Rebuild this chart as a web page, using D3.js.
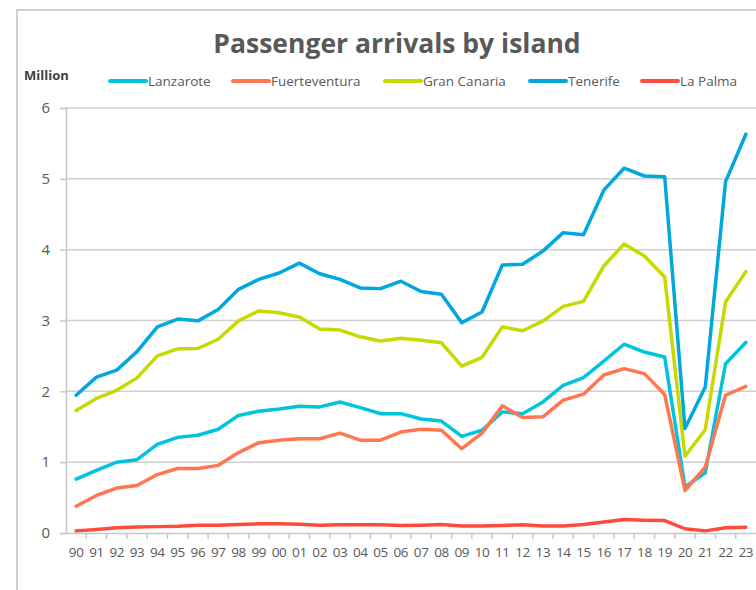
<!DOCTYPE html>
<html>
<head>
<meta charset="utf-8">
<script src="https://cdn.jsdelivr.net/npm/d3@7"></script>
<style>
  body { margin: 0; background: #fff; }
  svg { display: block; font-family: "Open Sans", sans-serif; }
</style>
</head>
<body>
<div id="chart"></div>
<script>
const years = ["90","91","92","93","94","95","96","97","98","99","00","01","02","03","04","05","06","07","08","09","10","11","12","13","14","15","16","17","18","19","20","21","22","23"];
const yTicks = [0, 1, 2, 3, 4, 5, 6];

const lanzarote = [0.76,0.885,1.00,1.035,1.25,1.35,1.38,1.465,1.66,1.72,1.75,1.79,1.78,1.85,1.77,1.685,1.685,1.61,1.58,1.365,1.45,1.71,1.685,1.85,2.085,2.195,2.425,2.665,2.555,2.485,0.65,0.85,2.39,2.69];
const fuerteventura = [0.377,0.53,0.635,0.67,0.825,0.91,0.91,0.955,1.135,1.275,1.31,1.33,1.33,1.41,1.31,1.31,1.425,1.465,1.45,1.19,1.41,1.795,1.63,1.64,1.875,1.96,2.23,2.32,2.25,1.955,0.60,0.93,1.945,2.07];
const granCanaria = [1.73,1.90,2.015,2.19,2.50,2.60,2.605,2.735,2.995,3.135,3.11,3.05,2.88,2.865,2.77,2.71,2.75,2.72,2.685,2.355,2.48,2.91,2.855,2.99,3.20,3.27,3.77,4.08,3.91,3.615,1.083,1.46,3.26,3.69];
const tenerife = [1.945,2.20,2.30,2.56,2.91,3.02,2.995,3.155,3.44,3.58,3.67,3.81,3.66,3.58,3.46,3.45,3.555,3.41,3.37,2.97,3.12,3.785,3.795,3.98,4.24,4.21,4.84,5.15,5.04,5.03,1.475,2.06,4.96,5.63];
const laPalma = [0.03,0.05,0.075,0.085,0.09,0.095,0.11,0.11,0.12,0.13,0.13,0.125,0.11,0.115,0.115,0.115,0.105,0.11,0.12,0.10,0.10,0.105,0.115,0.10,0.10,0.12,0.155,0.19,0.18,0.175,0.06,0.03,0.075,0.08];

const series = [
  { name: "Lanzarote", values: lanzarote, color: "#00C3DE" },
  { name: "Fuerteventura", values: fuerteventura, color: "#FF7650" },
  { name: "Gran Canaria", values: granCanaria, color: "#C6D900" },
  { name: "Tenerife", values: tenerife, color: "#00A8DE" },
  { name: "La Palma", values: laPalma, color: "#FF4B3B" }
];

const W = 756, H = 590;
const margin = { top: 108, right: 0, bottom: 57, left: 66 };
const width = W - margin.left - margin.right;
const height = H - margin.top - margin.bottom;

const svg = d3.select("#chart")
  .append("svg")
  .attr("width", W)
  .attr("height", H);

// outer chart border (runs off the right and bottom)
svg.append("path")
  .attr("d", `M17,${H + 5}V10H${W + 5}`)
  .attr("fill", "none")
  .attr("stroke", "#d0d0d0")
  .attr("stroke-width", 2);

svg.append("text")
  .attr("x", 397)
  .attr("y", 53)
  .attr("text-anchor", "middle")
  .attr("font-size", 26.5)
  .attr("font-weight", "bold")
  .attr("fill", "#595959")
  .text("Passenger arrivals by island");

svg.append("text")
  .attr("x", 24)
  .attr("y", 80)
  .attr("font-size", 13)
  .attr("font-weight", "bold")
  .attr("fill", "#404040")
  .text("Million");

const legendX = [110, 233, 385, 530, 642];
const legend = svg.append("g");
series.forEach((s, i) => {
  legend.append("line")
    .attr("x1", legendX[i]).attr("x2", legendX[i] + 36)
    .attr("y1", 81).attr("y2", 81)
    .attr("stroke", s.color)
    .attr("stroke-width", 4)
    .attr("stroke-linecap", "round");
  legend.append("text")
    .attr("x", legendX[i] + 38)
    .attr("y", 86)
    .attr("font-size", 13.5)
    .attr("fill", "#595959")
    .text(s.name);
});

const g = svg.append("g")
  .attr("transform", `translate(${margin.left},${margin.top})`);

const x = d3.scaleBand()
  .domain(years)
  .range([0, width]);

const y = d3.scaleLinear()
  .domain([0, 6])
  .range([height, 0]);

// gridlines
g.append("g")
  .selectAll("line")
  .data(yTicks.filter(d => d > 0))
  .join("line")
  .attr("x1", 0).attr("x2", width)
  .attr("y1", d => y(d)).attr("y2", d => y(d))
  .attr("stroke", "#d0d0d0")
  .attr("stroke-width", 1.5);

const yAxis = g.append("g")
  .call(d3.axisLeft(y).tickValues(yTicks).tickSize(6).tickPadding(10).tickFormat(d3.format("d")));
yAxis.select(".domain").attr("stroke", "#c8c8c8").attr("stroke-width", 1.5);
yAxis.selectAll(".tick line").attr("stroke", "#c8c8c8").attr("stroke-width", 1.5);
yAxis.selectAll("text").attr("font-size", 15).attr("fill", "#595959").attr("font-family", "Open Sans");

const xAxis = g.append("g")
  .attr("transform", `translate(0,${height})`)
  .call(d3.axisBottom(x).tickSize(0).tickPadding(14));
xAxis.select(".domain").attr("stroke", "#c8c8c8").attr("stroke-width", 1.5);
xAxis.selectAll("text").attr("font-size", 13.5).attr("fill", "#595959").attr("font-family", "Open Sans").attr("letter-spacing", "-0.4px");

// tick marks between categories
g.append("g")
  .selectAll("line")
  .data(years.slice(1))
  .join("line")
  .attr("x1", d => x(d)).attr("x2", d => x(d))
  .attr("y1", height).attr("y2", height + 6)
  .attr("stroke", "#c8c8c8")
  .attr("stroke-width", 1.5);

const line = d3.line()
  .x((d, i) => x(years[i]) + x.bandwidth() / 2)
  .y(d => y(d));

g.selectAll("path.series")
  .data(series)
  .join("path")
  .attr("class", "series")
  .attr("fill", "none")
  .attr("stroke", d => d.color)
  .attr("stroke-width", 3.5)
  .attr("stroke-linejoin", "round")
  .attr("stroke-linecap", "round")
  .attr("d", d => line(d.values));
</script>
</body>
</html>
